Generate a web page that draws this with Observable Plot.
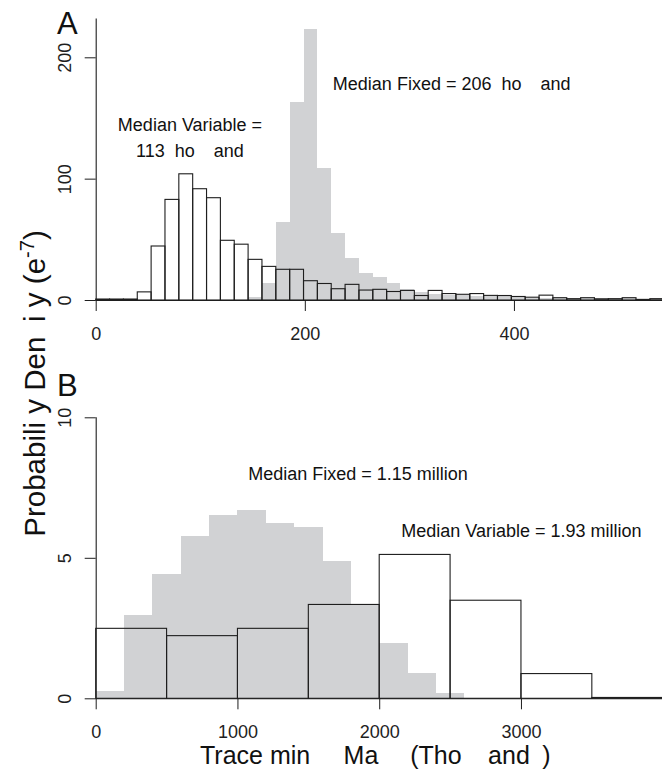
<!DOCTYPE html>
<html>
<head>
<meta charset="utf-8">
<script src="https://cdn.jsdelivr.net/npm/d3@7"></script>
<script src="https://cdn.jsdelivr.net/npm/@observablehq/plot@0.6"></script>
<style>
  body { margin: 0; background: #fff; }
  #fig { position: relative; width: 662px; height: 773px; overflow: hidden; background: #fff;
         font-family: "Liberation Sans", Arial, Helvetica, sans-serif; }
  #fig > svg { position: absolute; left: 0; }
</style>
</head>
<body>
<div id="fig"></div>
<script>
// ---------------- data ----------------
// Panel A: histogram bins (width in thousands), probability density (e-7)
const binWidthA = 13.25;
const variableA = [0.8, 0.8, 0.8, 6.7, 44.5, 82.9, 104, 91.7, 84.3, 49.2,
                   46, 33.5, 27.7, 25.3, 25.3, 15.9, 13.6, 9.3, 12.9, 8.2,
                   8.8, 7.0, 7.9, 3.7, 7.9, 5.3, 4.7, 5.3, 3.8, 3.7,
                   2.9, 2.3, 4.0, 1.9, 1.1, 1.9, 1.0, 1.1, 1.9, 0.5, 1.1];
const fixedA    = [0, 0, 0, 0, 0, 0, 0, 0, 0, 0,
                   0, 2.2, 14.3, 64, 162.8, 223.6, 109, 55.5, 34.9, 22.5,
                   19.2, 13.7, 8.8, 6.6, 5.2, 4.5, 4.0, 3.5, 3.0, 3.0,
                   2.5, 2.0, 2.0, 1.9, 1.1, 1.5, 0.8, 1.0, 1.5, 0.4, 1.0];
// Panel B
const binWidthFixedB = 200;
const fixedB    = [0.26, 2.96, 4.42, 5.79, 6.52, 6.70, 6.25, 6.11, 4.89, 3.32, 1.96, 0.89, 0.18];
const binWidthVariableB = 500;
const variableB = [2.49, 2.23, 2.49, 3.34, 5.12, 3.49, 0.88, 0.03];

const xTicksA = [0, 200, 400];
const yTicksA = [0, 100, 200];
const xTicksB = [0, 1000, 2000, 3000];
const yTicksB = [0, 5, 10];

const xDomainA = [0, 541.6];
const yDomainA = [0, 240];
const yAxisTopA = 232;
const xDomainB = [0, 3995];
const yDomainB = [0, 10.5];
const yAxisTopB = 10;

const annotationTextA = ["Median Variable =", "113 thousand", "Median Fixed = 206 thousand"];
const annotationXA = [89.7, 89.7, 340];
const annotationYA = [144.3, 122.9, 178.4];
const annotationTextB = ["Median Fixed = 1.15 million", "Median Variable = 1.93 million"];
const annotationXB = [1847, 3000];
const annotationYB = [7.975, 5.98];

const panelLetters = ["A", "B"];
const xTitle = "Trace minus Mass (Thousands)";
const yTitle = "Probability Density (e";
const yExponent = "-7";

// ---------------- style ----------------
const FONT = '"Liberation Sans", Arial, Helvetica, sans-serif';
const GRAY = "#d1d2d4";
const INK = "#1e1e1e";

const toBins = (vals, w) => vals.map((v, i) => ({x1: i * w, x2: (i + 1) * w, v}));
const toLabels = (texts, xs, ys) => texts.map((t, i) => ({text: t, x: xs[i], y: ys[i]}));

// characters that the original figure's font failed to draw (rendered blank)
function ghost(root, chars) {
  const walker = document.createTreeWalker(root, NodeFilter.SHOW_TEXT);
  const nodes = [];
  while (walker.nextNode()) {
    const n = walker.currentNode;
    const p = n.parentNode && n.parentNode.nodeName.toLowerCase();
    if (p === "text" || p === "tspan") nodes.push(n);
  }
  for (const node of nodes) {
    const s = node.nodeValue;
    if (![...s].some(c => chars.includes(c))) continue;
    const frag = document.createDocumentFragment();
    let buf = "";
    for (const c of s) {
      if (chars.includes(c)) {
        if (buf) { frag.appendChild(document.createTextNode(buf)); buf = ""; }
        const t = document.createElementNS("http://www.w3.org/2000/svg", "tspan");
        t.setAttribute("fill-opacity", "0");
        t.textContent = c;
        frag.appendChild(t);
      } else buf += c;
    }
    if (buf) frag.appendChild(document.createTextNode(buf));
    node.parentNode.replaceChild(frag, node);
  }
}

function panel({fixed, fixedW, variable, variableW, xDomain, yDomain, yTop, xTicks, yTicks,
                labels, letter, height, marginTop, marginBottom, letterDy}) {
  return Plot.plot({
    width: 662, height, marginLeft: 95.7, marginRight: 0, marginTop, marginBottom,
    style: {fontFamily: FONT, fontSize: "18px", background: "transparent", color: INK, overflow: "visible"},
    x: {domain: xDomain},
    y: {domain: yDomain},
    marks: [
      Plot.rect(toBins(fixed, fixedW), {x1: "x1", x2: "x2", y1: 0, y2: "v", fill: GRAY,
        shapeRendering: "crispEdges"}),
      Plot.rect(toBins(variable, variableW), {x1: "x1", x2: "x2", y1: 0, y2: "v",
        fill: "none", stroke: INK, strokeWidth: 1.1}),
      Plot.ruleY([0], {stroke: INK, strokeWidth: 1.1}),
      Plot.ruleX([0], {y1: 0, y2: yTop, stroke: INK, strokeWidth: 1.1}),
      Plot.axisX({ticks: xTicks, tickFormat: d3.format("d"), tickSize: 11, tickPadding: 15.5,
        label: null, fontSize: 18, stroke: INK}),
      Plot.axisY({ticks: yTicks, tickFormat: d3.format("d"), tickSize: 11, tickPadding: 14.5,
        tickRotate: -90, label: null, fontSize: 18, stroke: INK}),
      Plot.text(labels, {x: "x", y: "y", text: "text", fontSize: 18, fill: "#111"}),
      Plot.text([letter], {frameAnchor: "top-left", textAnchor: "start", lineAnchor: "bottom",
        dx: -39.2, dy: letterDy, fontSize: 31, fill: "#111"})
    ]
  });
}

const fig = document.getElementById("fig");

const plotA = panel({
  fixed: fixedA, fixedW: binWidthA, variable: variableA, variableW: binWidthA,
  xDomain: xDomainA, yDomain: yDomainA, yTop: yAxisTopA, xTicks: xTicksA, yTicks: yTicksA,
  labels: toLabels(annotationTextA, annotationXA, annotationYA), letter: panelLetters[0],
  height: 350, marginTop: 8.76, marginBottom: 50, letterDy: 24.5
});
plotA.style.top = "0px";
fig.appendChild(plotA);

const plotB = panel({
  fixed: fixedB, fixedW: binWidthFixedB, variable: variableB, variableW: binWidthVariableB,
  xDomain: xDomainB, yDomain: yDomainB, yTop: yAxisTopB, xTicks: xTicksB, yTicks: yTicksB,
  labels: toLabels(annotationTextB, annotationXB, annotationYB), letter: panelLetters[1],
  height: 390, marginTop: 43.25, marginBottom: 51.7, letterDy: -8.25
});
plotB.style.top = "360px";
fig.appendChild(plotB);

for (const p of [plotA, plotB]) ghost(p, "tus");

// axis titles
const overlay = d3.create("svg")
  .attr("width", 662).attr("height", 773)
  .style("top", "0px").style("pointer-events", "none")
  .style("font-family", FONT);

const xt = overlay.append("text")
  .attr("x", 200).attr("y", 764)
  .attr("font-size", 25).attr("fill", "#111")
  .style("white-space", "pre")
  .text(xTitle);
ghost(xt.node(), "tus");

const yt = overlay.append("text")
  .attr("transform", "translate(45,383.5) rotate(-90)")
  .attr("text-anchor", "middle")
  .attr("font-size", 29.5).attr("fill", "#111");
yt.append("tspan").text(yTitle);
yt.append("tspan").attr("font-size", "0.68em").attr("baseline-shift", "super").text(yExponent);
yt.append("tspan").text(")");
ghost(yt.node(), "ts");

fig.appendChild(overlay.node());
</script>
</body>
</html>
